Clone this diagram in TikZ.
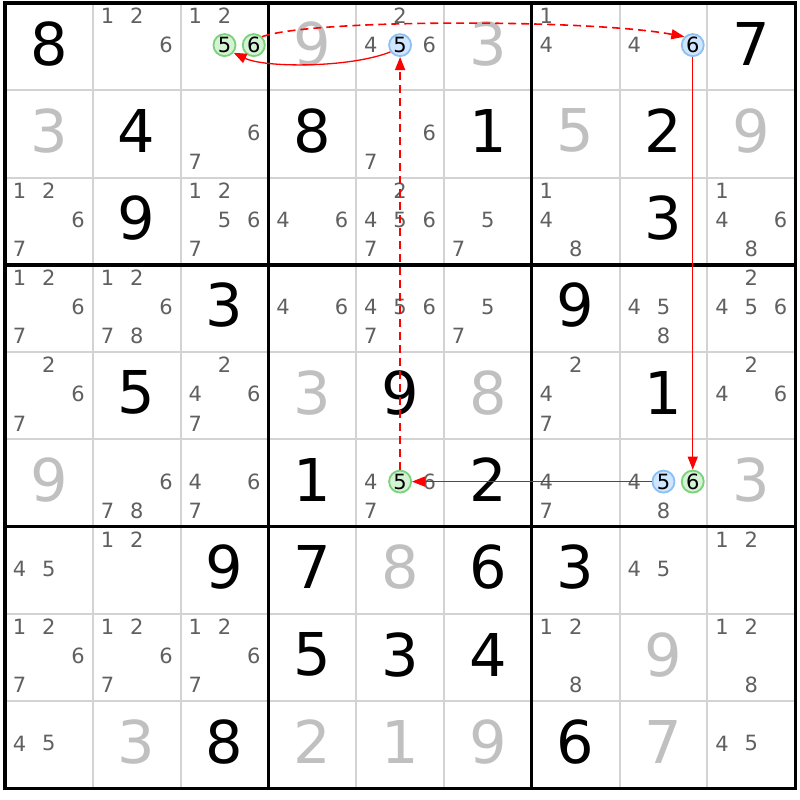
\documentclass[tikz,border=0pt]{standalone}
\usepackage{fontspec}
\setmainfont{DejaVu Sans}
\usepackage{tikz}
\usetikzlibrary{arrows.meta}
\definecolor{givengray}{RGB}{192,192,192}
\definecolor{pencilgray}{RGB}{96,96,96}
\definecolor{gridgray}{RGB}{211,211,211}
\definecolor{ringgreen}{RGB}{120,210,120}
\definecolor{fillgreen}{RGB}{212,243,212}
\definecolor{ringblue}{RGB}{140,192,243}
\definecolor{fillblue}{RGB}{208,229,255}

\begin{document}
\begin{tikzpicture}[x=87.8pt, y=87.3pt,
gridline/.style = {draw=gridgray, line width=2pt},
boxline/.style = {draw=black, line width=3.3pt},
given/.style = {font=\fontsize{59}{59}\selectfont, text=black, inner sep=0pt, yshift=3pt},
solved/.style = {given, text=givengray},
pencil/.style = {font=\fontsize{21}{21}\selectfont, text=pencilgray, inner sep=0pt, yshift=1.5pt},
pick/.style = {pencil, circle, minimum size=22pt, line width=1.8pt, text=black},
pickgreen/.style = {pick, draw=ringgreen, fill=fillgreen},
pickblue/.style = {pick, draw=ringblue, fill=fillblue},
link/.style = {draw=red, line width=1.3pt, -{Triangle[length=13pt, width=10pt]}},
weaklink/.style = {link, line width=1.6pt, dash pattern=on 8pt off 5pt}]
\useasboundingbox[fill=white] (-0.057,-0.129) rectangle (9.055,9.034);

\foreach \i in {1,2,4,5,7,8} {
  \draw[gridline] (\i,0) -- (\i,9);
  \draw[gridline] (0,\i) -- (9,\i);
}
\foreach \i in {3,6} {
  \draw[boxline] (\i,0) -- (\i,9);
  \draw[boxline] (0,\i) -- (9,\i);
}
\draw[boxline] (0,0) rectangle (9,9);

% clues and placed digits
\foreach \r/\c/\d in {1/1/8, 1/9/7, 2/2/4, 2/4/8, 2/6/1, 2/8/2, 3/2/9, 3/8/3,
  4/3/3, 4/7/9, 5/2/5, 5/5/9, 5/8/1, 6/4/1, 6/6/2, 7/3/9, 7/4/7, 7/6/6, 7/7/3,
  8/4/5, 8/5/3, 8/6/4, 9/3/8, 9/7/6}
  \node[given] (d\r\c) at ({\c-0.5},{9.5-\r}) {\d};
\foreach \r/\c/\d in {1/4/9, 1/6/3, 2/1/3, 2/7/5, 2/9/9, 5/4/3, 5/6/8, 6/1/9,
  6/9/3, 7/5/8, 8/8/9, 9/2/3, 9/4/2, 9/5/1, 9/6/9, 9/8/7}
  \node[solved] (d\r\c) at ({\c-0.5},{9.5-\r}) {\d};

% candidates
\foreach \r/\c/\ks in {1/2/{1,2,6}, 1/3/{1,2}, 1/5/{2,4,6}, 1/7/{1,4}, 1/8/{4},
  2/3/{6,7}, 2/5/{6,7},
  3/1/{1,2,6,7}, 3/3/{1,2,5,6,7}, 3/4/{4,6}, 3/5/{2,4,5,6,7}, 3/6/{5,7},
  3/7/{1,4,8}, 3/9/{1,4,6,8},
  4/1/{1,2,6,7}, 4/2/{1,2,6,7,8}, 4/4/{4,6}, 4/5/{4,5,6,7}, 4/6/{5,7},
  4/8/{4,5,8}, 4/9/{2,4,5,6},
  5/1/{2,6,7}, 5/3/{2,4,6,7}, 5/7/{2,4,7}, 5/9/{2,4,6},
  6/2/{6,7,8}, 6/3/{4,6,7}, 6/5/{4,6,7}, 6/7/{4,7}, 6/8/{4,8},
  7/1/{4,5}, 7/2/{1,2}, 7/8/{4,5}, 7/9/{1,2},
  8/1/{1,2,6,7}, 8/2/{1,2,6,7}, 8/3/{1,2,6,7}, 8/7/{1,2,8}, 8/9/{1,2,8},
  9/1/{4,5}, 9/9/{4,5}}
  \foreach \k in \ks
    \node[pencil] (p\r\c-\k) at ({\c-1+(2*mod(\k-1,3)+1)/6},{10-\r-(2*div(\k-1,3)+1)/6}) {\k};

\foreach \r/\c/\k/\s in {1/3/5/pickgreen, 1/3/6/pickgreen, 1/5/5/pickblue, 1/8/6/pickblue,
  6/5/5/pickgreen, 6/8/5/pickblue, 6/8/6/pickgreen}
  \node[\s] (p\r\c-\k) at ({\c-1+(2*mod(\k-1,3)+1)/6},{10-\r-(2*div(\k-1,3)+1)/6}) {\k};

\draw[weaklink] (p13-6.45) .. controls (3.474,8.817) and (6.663,8.817) .. (p18-6.135);
\draw[link] (p15-5.215) .. controls (3.929,8.255) and (2.961,8.255) .. (p13-5.320);
\draw[weaklink] (p65-5) -- (p15-5);
\draw[link, line width=1pt] (p18-6) -- (p68-6);
\draw[link, line width=1pt] (p68-5) -- (p65-5);
\end{tikzpicture}
\end{document}
